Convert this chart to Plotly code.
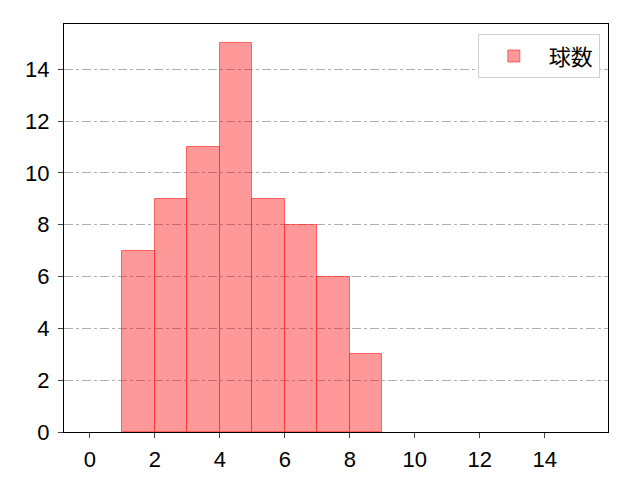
import plotly.graph_objects as go

bin_left = [1, 2, 3, 4, 5, 6, 7, 8]
counts = [7, 9, 11, 15, 9, 8, 6, 3]
x_ticks = [0, 2, 4, 6, 8, 10, 12, 14]
y_ticks = [0, 2, 4, 6, 8, 10, 12, 14]

fig = go.Figure()
fig.add_trace(go.Bar(
    x=[b + 0.5 for b in bin_left], y=counts, width=1,
    name="球数", showlegend=True,
    marker=dict(color="rgba(255,0,0,0.4)",
                line=dict(color="rgba(255,40,40,0.65)", width=1)),
))

tick_font = dict(family="Liberation Sans, Arial, sans-serif", size=22, color="black")

fig.update_layout(
    width=640, height=480,
    margin=dict(l=56, r=40, t=16, b=56),
    plot_bgcolor="white", paper_bgcolor="white",
    font=dict(family="Noto Sans CJK JP", size=16, color="black"),
    bargap=0,
    legend=dict(x=0.985, y=0.975, xanchor="right", yanchor="top",
                bordercolor="#d0d0d0", borderwidth=1,
                font=dict(size=22), itemwidth=60),
    xaxis=dict(range=[-0.8, 15.95], tickvals=x_ticks, showgrid=False,
               showline=True, linecolor="black", linewidth=1.3, mirror=True,
               ticks="outside", ticklen=5, tickwidth=1.3, zeroline=False,
               tickfont=tick_font, ticklabelstandoff=2),
    yaxis=dict(range=[0, 15.75], tickvals=y_ticks, showgrid=True,
               gridcolor="#b0b0b0", griddash="dashdot", gridwidth=1,
               showline=True, linecolor="black", linewidth=1.3, mirror=True,
               ticks="outside", ticklen=5, tickwidth=1.3, zeroline=False,
               layer="above traces", tickfont=tick_font, ticklabelstandoff=4),
)

fig.write_html("out.html")
